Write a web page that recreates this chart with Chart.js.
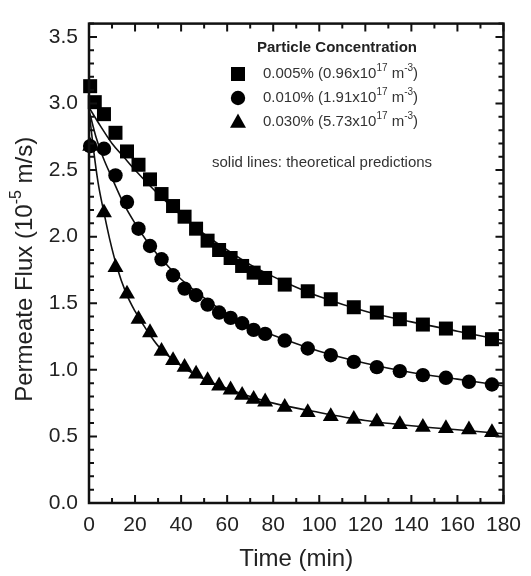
<!DOCTYPE html>
<html><head><meta charset="utf-8">
<script src="https://cdn.jsdelivr.net/npm/chart.js@4/dist/chart.umd.min.js"></script>
<style>html,body{margin:0;padding:0;background:#fff;}canvas{display:block;}</style>
</head><body>
<canvas id="c" width="531" height="576"></canvas>
<script>
// ---- data ----
const timeSq = [0.5, 2.5, 6.5, 11.5, 16.5, 21.5, 26.5, 31.5, 36.5, 41.5, 46.5, 51.5, 56.5, 61.5, 66.5, 71.5, 76.5, 85, 95, 105, 115, 125, 135, 145, 155, 165, 175];
const fluxSq = [3.13, 3.01, 2.92, 2.78, 2.64, 2.54, 2.43, 2.32, 2.23, 2.15, 2.06, 1.97, 1.90, 1.84, 1.78, 1.73, 1.69, 1.64, 1.59, 1.53, 1.47, 1.43, 1.38, 1.34, 1.31, 1.28, 1.23];

const timeCi = [0.5, 6.5, 11.5, 16.5, 21.5, 26.5, 31.5, 36.5, 41.5, 46.5, 51.5, 56.5, 61.5, 66.5, 71.5, 76.5, 85, 95, 105, 115, 125, 135, 145, 155, 165, 175];
const fluxCi = [2.68, 2.66, 2.46, 2.26, 2.06, 1.93, 1.83, 1.71, 1.61, 1.56, 1.49, 1.43, 1.39, 1.35, 1.30, 1.27, 1.22, 1.16, 1.11, 1.06, 1.02, 0.99, 0.96, 0.94, 0.91, 0.89];

const timeTr = [0.5, 6.5, 11.5, 16.5, 21.5, 26.5, 31.5, 36.5, 41.5, 46.5, 51.5, 56.5, 61.5, 66.5, 71.5, 76.5, 85, 95, 105, 115, 125, 135, 145, 155, 165, 175];
const fluxTr = [2.68, 2.18, 1.77, 1.57, 1.38, 1.28, 1.14, 1.07, 1.02, 0.97, 0.92, 0.88, 0.85, 0.81, 0.78, 0.76, 0.72, 0.68, 0.65, 0.63, 0.61, 0.59, 0.57, 0.56, 0.55, 0.53];

// theoretical prediction curves
const timeThSq = [0, 5, 10, 15, 20, 30, 40, 50, 60, 70, 80, 90, 100, 120, 140, 160, 180];
const fluxThSq = [2.97, 2.83, 2.70, 2.60, 2.50, 2.32, 2.16, 2.02, 1.90, 1.79, 1.70, 1.62, 1.55, 1.44, 1.36, 1.29, 1.22];
const timeThCi = [0, 3, 6, 10, 15, 20, 25, 30, 40, 50, 60, 70, 80, 100, 120, 140, 160, 180];
const fluxThCi = [2.95, 2.75, 2.60, 2.44, 2.25, 2.10, 1.97, 1.86, 1.68, 1.54, 1.42, 1.33, 1.26, 1.14, 1.05, 0.98, 0.93, 0.88];
const timeThTr = [0, 2, 4, 6.5, 9, 12, 16, 20, 25, 30, 40, 50, 60, 70, 80, 100, 120, 140, 160, 180];
const fluxThTr = [2.95, 2.65, 2.40, 2.18, 1.98, 1.78, 1.58, 1.44, 1.30, 1.18, 1.03, 0.93, 0.86, 0.80, 0.75, 0.68, 0.62, 0.58, 0.55, 0.52];

const xTicks = [0, 20, 40, 60, 80, 100, 120, 140, 160, 180];
const yTicks = [0, 0.5, 1.0, 1.5, 2.0, 2.5, 3.0, 3.5];

const legendTitle = 'Particle Concentration';
const legendLabels = [
  [['0.005% (0.96x10', 0], ['17', 1], [' m', 0], ['-3', 1], [')', 0]],
  [['0.010% (1.91x10', 0], ['17', 1], [' m', 0], ['-3', 1], [')', 0]],
  [['0.030% (5.73x10', 0], ['17', 1], [' m', 0], ['-3', 1], [')', 0]]
];
const legendNote = 'solid lines: theoretical predictions';
const yTitle = [['Permeate Flux (10', 0], ['-5', 1], [' m/s)', 0]];
const xTitle = 'Time (min)';

// ---- chart ----
const FONT = '"Liberation Sans", Arial, Helvetica, sans-serif';
const pts = (t, v) => t.map((x, i) => ({x: x, y: v[i]}));

function drawRich(ctx, x, y, parts, size, weight) {
  let cx = x;
  for (const [t, sup] of parts) {
    const s = sup ? Math.round(size * 0.66) : size;
    ctx.font = (weight || '') + ' ' + s + 'px ' + FONT;
    ctx.fillText(t, cx, sup ? y - size * 0.36 : y);
    cx += ctx.measureText(t).width;
  }
  return cx - x;
}
function richWidth(ctx, parts, size) {
  let w = 0;
  for (const [t, sup] of parts) {
    const s = sup ? Math.round(size * 0.66) : size;
    ctx.font = s + 'px ' + FONT;
    w += ctx.measureText(t).width;
  }
  return w;
}
function marker(ctx, kind, x, y) {
  ctx.beginPath();
  if (kind === 0) { ctx.rect(x - 7, y - 7, 14, 14); }
  else if (kind === 1) { ctx.arc(x, y, 7.2, 0, Math.PI * 2); }
  else { ctx.moveTo(x, y - 8.5); ctx.lineTo(x + 8, y + 5.8); ctx.lineTo(x - 8, y + 5.8); ctx.closePath(); }
  ctx.fill();
}

const decor = {
  id: 'decor',
  afterDraw(chart) {
    const {ctx, chartArea: a, scales: {x, y}} = chart;
    ctx.save();
    ctx.strokeStyle = '#111';
    ctx.lineWidth = 2;
    ctx.beginPath();
    for (let v = 0; v <= 180; v += 10) {
      const px = x.getPixelForValue(v);
      const L = xTicks.includes(v) ? 8 : 5;
      ctx.moveTo(px, a.bottom); ctx.lineTo(px, a.bottom - L);
      ctx.moveTo(px, a.top); ctx.lineTo(px, a.top + L);
    }
    for (let i = 0; i <= 36; i++) {
      const py = y.getPixelForValue(i / 10);
      const L = i % 5 === 0 ? 8 : 5;
      ctx.moveTo(a.left, py); ctx.lineTo(a.left + L, py);
      ctx.moveTo(a.right, py); ctx.lineTo(a.right - L, py);
    }
    ctx.stroke();
    ctx.lineWidth = 2.5;
    ctx.strokeRect(a.left, a.top, a.right - a.left, a.bottom - a.top);

    // legend
    ctx.fillStyle = '#222';
    ctx.textBaseline = 'middle';
    ctx.textAlign = 'center';
    ctx.font = 'bold 15px ' + FONT;
    ctx.fillText(legendTitle, 337, 48);
    ctx.textAlign = 'left';
    const rows = [74, 98, 122];
    legendLabels.forEach((parts, i) => {
      ctx.fillStyle = '#000';
      marker(ctx, i, 238, rows[i]);
      ctx.fillStyle = '#333';
      drawRich(ctx, 263, rows[i], parts, 15);
    });
    ctx.font = '15px ' + FONT;
    ctx.fillText(legendNote, 212, 163);

    // y title
    ctx.fillStyle = '#222';
    ctx.translate(25, (a.top + a.bottom) / 2 + 6);
    ctx.rotate(-Math.PI / 2);
    const w = richWidth(ctx, yTitle, 24);
    drawRich(ctx, -w / 2, 0, yTitle, 24);
    ctx.restore();
  }
};

const ptStyles = ['rect', 'circle', 'triangle'];
const ptRadius = [9.9, 7.2, 9.2];
const markerSets = [[timeSq, fluxSq], [timeCi, fluxCi], [timeTr, fluxTr]].map((d, i) => ({
  label: 'data' + i,
  data: pts(d[0], d[1]),
  showLine: false,
  pointStyle: ptStyles[i],
  pointRadius: ptRadius[i],
  pointHoverRadius: ptRadius[i],
  pointBackgroundColor: '#000',
  pointBorderWidth: 0,
  borderWidth: 0,
  clip: false,
  order: 1
}));
const lineSets = [[timeThSq, fluxThSq], [timeThCi, fluxThCi], [timeThTr, fluxThTr]].map((d, i) => ({
  label: 'theory' + i,
  data: pts(d[0], d[1]),
  showLine: true,
  pointRadius: 0,
  borderColor: '#111',
  borderWidth: 1.6,
  cubicInterpolationMode: 'monotone',
  fill: false,
  order: 2
}));

new Chart(document.getElementById('c'), {
  type: 'scatter',
  data: {datasets: [...markerSets, ...lineSets]},
  options: {
    responsive: false,
    devicePixelRatio: 1,
    animation: false,
    layout: {padding: {top: 11, right: 23, left: 0, bottom: 0}},
    plugins: {legend: {display: false}, tooltip: {enabled: false}},
    scales: {
      x: {
        type: 'linear', min: 0, max: 180,
        afterBuildTicks: s => { s.ticks = xTicks.map(v => ({value: v})); },
        afterFit: s => { s.height = 73; },
        grid: {display: false, drawTicks: false},
        border: {display: false},
        ticks: {padding: 10, color: '#222', font: {family: FONT, size: 21}, maxRotation: 0, autoSkip: false},
        title: {display: true, text: xTitle, color: '#222', font: {family: FONT, size: 24}, padding: {top: 0, bottom: 2}}
      },
      y: {
        type: 'linear', min: 0, max: 3.6,
        afterBuildTicks: s => { s.ticks = yTicks.map(v => ({value: v})); },
        afterFit: s => { s.width = 89; },
        grid: {display: false, drawTicks: false},
        border: {display: false},
        ticks: {padding: 11, color: '#222', font: {family: FONT, size: 21}, callback: v => Number(v).toFixed(1), autoSkip: false},
        title: {display: false}
      }
    }
  },
  plugins: [decor]
});
</script>
</body></html>
